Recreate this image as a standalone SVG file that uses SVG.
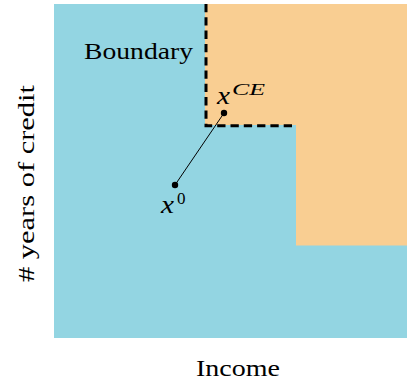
<svg xmlns="http://www.w3.org/2000/svg" width="407" height="380" viewBox="0 0 407 380">
<style>
.t{font-family:"Liberation Serif","DejaVu Serif",serif;fill:#000}
.m{font-family:"Liberation Serif","DejaVu Serif",serif;font-style:italic;fill:#000}
.dash{fill:none;stroke:#000;stroke-width:3;stroke-dasharray:8.3 5}
</style>
<g id="regions">
<rect x="54" y="4" width="353" height="334" fill="#93D5E2"/>
<path d="M205 4 H407 V245.5 H296 V125 H205 Z" fill="#F9CE92"/>
</g>
<g id="connectors">
<path class="dash" d="M206 4 V125.8 H294"/>
<line x1="175" y1="185" x2="224" y2="113" stroke="#000" stroke-width="1"/>
</g>
<g id="node-xCE">
<circle cx="224" cy="113" r="3.2" fill="#000"/>
<text class="m" x="217" y="104" font-size="26" textLength="13" lengthAdjust="spacingAndGlyphs">x</text>
<text class="m" x="232" y="95" font-size="17" textLength="33" lengthAdjust="spacingAndGlyphs">CE</text>
</g>
<g id="node-x0">
<circle cx="175" cy="185" r="3.2" fill="#000"/>
<text class="m" x="161" y="213" font-size="26" textLength="13" lengthAdjust="spacingAndGlyphs">x</text>
<text class="t" x="177" y="204" font-size="17">0</text>
</g>
<g id="labels">
<text class="t" x="84" y="59" font-size="23" textLength="109" lengthAdjust="spacingAndGlyphs">Boundary</text>
<text class="t" x="196" y="376" font-size="23" textLength="84" lengthAdjust="spacingAndGlyphs">Income</text>
<text class="t" transform="translate(34,282) rotate(-90)" font-size="23" textLength="197" lengthAdjust="spacingAndGlyphs"># years of credit</text>
</g>
</svg>
